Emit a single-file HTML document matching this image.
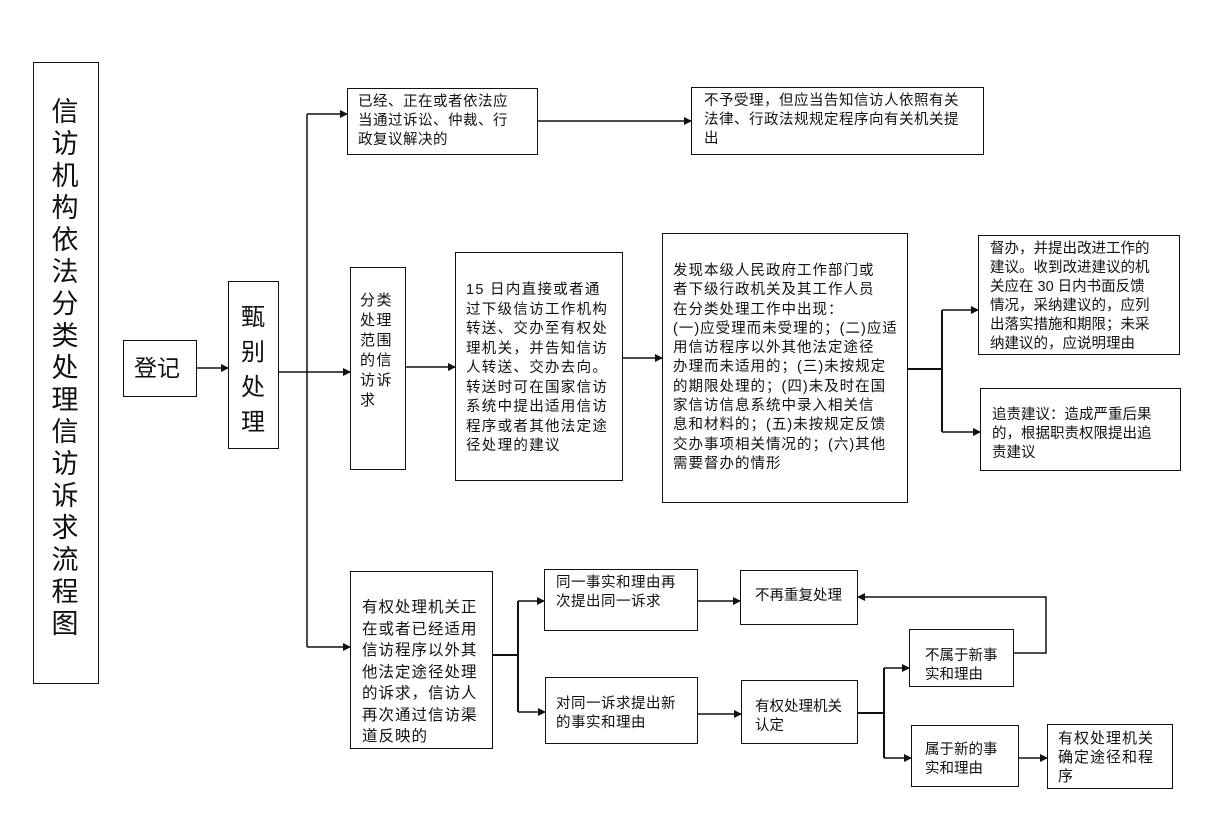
<!DOCTYPE html>
<html><head><meta charset="utf-8"><style>
body{margin:0;width:1224px;height:829px;background:#fff;position:relative;overflow:hidden;font-family:"Liberation Sans","Noto Sans CJK SC",sans-serif;color:#111}
.b{position:absolute;border:1.5px solid #111;box-sizing:border-box}
.t{position:absolute;font-size:14.5px;line-height:19px;white-space:pre}
svg{position:absolute;left:0;top:0}
</style></head><body>
<svg width="1224" height="829"><defs><marker id="a" markerWidth="8" markerHeight="8" refX="7" refY="4" orient="auto" markerUnits="userSpaceOnUse"><path d="M0,0L8,4L0,8z" fill="#111"/></marker></defs>
<g stroke="#111" stroke-width="1.5" fill="none">
<path d="M196,368H228" marker-end="url(#a)"/>
<path d="M278,372H307M307,114V647"/>
<path d="M307,114H347" marker-end="url(#a)"/>
<path d="M307,372H350" marker-end="url(#a)"/>
<path d="M307,647H350" marker-end="url(#a)"/>
<path d="M537,121H691" marker-end="url(#a)"/>
<path d="M405,367H455" marker-end="url(#a)"/>
<path d="M622,358H662" marker-end="url(#a)"/>
<path d="M907,369H942M942,310V432" stroke-width="2"/>
<path d="M942,310H978" marker-end="url(#a)"/>
<path d="M942,432H980" marker-end="url(#a)"/>
<path d="M492,655H518M518,601V712" stroke-width="2"/>
<path d="M518,601H544" marker-end="url(#a)"/>
<path d="M518,712H545" marker-end="url(#a)"/>
<path d="M697,601H740" marker-end="url(#a)"/>
<path d="M697,714H741" marker-end="url(#a)"/>
<path d="M857,713H884M884,668V758" stroke-width="2"/>
<path d="M884,668H909" marker-end="url(#a)"/>
<path d="M884,758H911" marker-end="url(#a)"/>
<path d="M1013,653H1046V597H858" marker-end="url(#a)"/>
<path d="M1018,758H1047" marker-end="url(#a)"/>
</g></svg>
<div class="b" style="left:33px;top:62px;width:66px;height:622px"></div>
<div class="t" style="left:49px;top:96px;font-size:27px;line-height:32px;width:32px;white-space:normal;text-align:center">信访机构依法分类处理信访诉求流程图</div>
<div class="b" style="left:123px;top:340px;width:74px;height:57px"></div>
<div class="t" style="left:134px;top:354px;font-size:23px;line-height:28px">登记</div>
<div class="b" style="left:228px;top:281px;width:51px;height:168px"></div>
<div class="t" style="left:241px;top:300px;font-size:24px;line-height:35px">甄
别
处
理</div>
<div class="b" style="left:347px;top:88px;width:191px;height:67px"></div>
<div class="t" style="left:358px;top:93px;letter-spacing:0.5px">已经、正在或者依法应
当通过诉讼、仲裁、行
政复议解决的</div>
<div class="b" style="left:691px;top:87px;width:293px;height:68px"></div>
<div class="t" style="left:704px;top:92px;letter-spacing:0.5px">不予受理，但应当告知信访人依照有关
法律、行政法规规定程序向有关机关提
出</div>
<div class="b" style="left:350px;top:267px;width:56px;height:203px"></div>
<div class="t" style="left:360px;top:291px;font-size:15px;line-height:20px;letter-spacing:1.5px">分类
处理
范围
的信
访诉
求</div>
<div class="b" style="left:455px;top:252px;width:168px;height:229px"></div>
<div class="t" style="left:466px;top:281px;line-height:19.5px;letter-spacing:1.3px">15 日内直接或者通
过下级信访工作机构
转送、交办至有权处
理机关，并告知信访
人转送、交办去向。
转送时可在国家信访
系统中提出适用信访
程序或者其他法定途
径处理的建议</div>
<div class="b" style="left:662px;top:233px;width:246px;height:270px"></div>
<div class="t" style="left:673px;top:262px;line-height:19.3px;letter-spacing:1px">发现本级人民政府工作部门或
者下级行政机关及其工作人员
在分类处理工作中出现：
(一)应受理而未受理的；(二)应适
用信访程序以外其他法定途径
办理而未适用的；(三)未按规定
的期限处理的；(四)未及时在国
家信访信息系统中录入相关信
息和材料的；(五)未按规定反馈
交办事项相关情况的；(六)其他
需要督办的情形</div>
<div class="b" style="left:978px;top:235px;width:202px;height:120px"></div>
<div class="t" style="left:990px;top:240px">督办，并提出改进工作的
建议。收到改进建议的机
关应在 30 日内书面反馈
情况，采纳建议的，应列
出落实措施和期限；未采
纳建议的，应说明理由</div>
<div class="b" style="left:980px;top:388px;width:201px;height:83px"></div>
<div class="t" style="left:992px;top:406px">追责建议：造成严重后果
的，根据职责权限提出追
责建议</div>
<div class="b" style="left:350px;top:571px;width:143px;height:178px"></div>
<div class="t" style="left:362px;top:597px;font-size:15.5px;line-height:21.5px;letter-spacing:1px">有权处理机关正
在或者已经适用
信访程序以外其
他法定途径处理
的诉求，信访人
再次通过信访渠
道反映的</div>
<div class="b" style="left:544px;top:569px;width:154px;height:62px"></div>
<div class="t" style="left:556px;top:574px;letter-spacing:0.5px">同一事实和理由再
次提出同一诉求</div>
<div class="b" style="left:740px;top:570px;width:118px;height:55px"></div>
<div class="t" style="left:755px;top:587px">不再重复处理</div>
<div class="b" style="left:545px;top:677px;width:153px;height:67px"></div>
<div class="t" style="left:556px;top:695px;letter-spacing:0.5px">对同一诉求提出新
的事实和理由</div>
<div class="b" style="left:741px;top:680px;width:117px;height:64px"></div>
<div class="t" style="left:755px;top:698px">有权处理机关
认定</div>
<div class="b" style="left:909px;top:629px;width:105px;height:58px"></div>
<div class="t" style="left:925px;top:647px">不属于新事
实和理由</div>
<div class="b" style="left:911px;top:725px;width:108px;height:62px"></div>
<div class="t" style="left:925px;top:741px">属于新的事
实和理由</div>
<div class="b" style="left:1047px;top:724px;width:126px;height:65px"></div>
<div class="t" style="left:1058px;top:729px;font-size:15px;letter-spacing:1px">有权处理机关
确定途径和程
序</div>
</body></html>
